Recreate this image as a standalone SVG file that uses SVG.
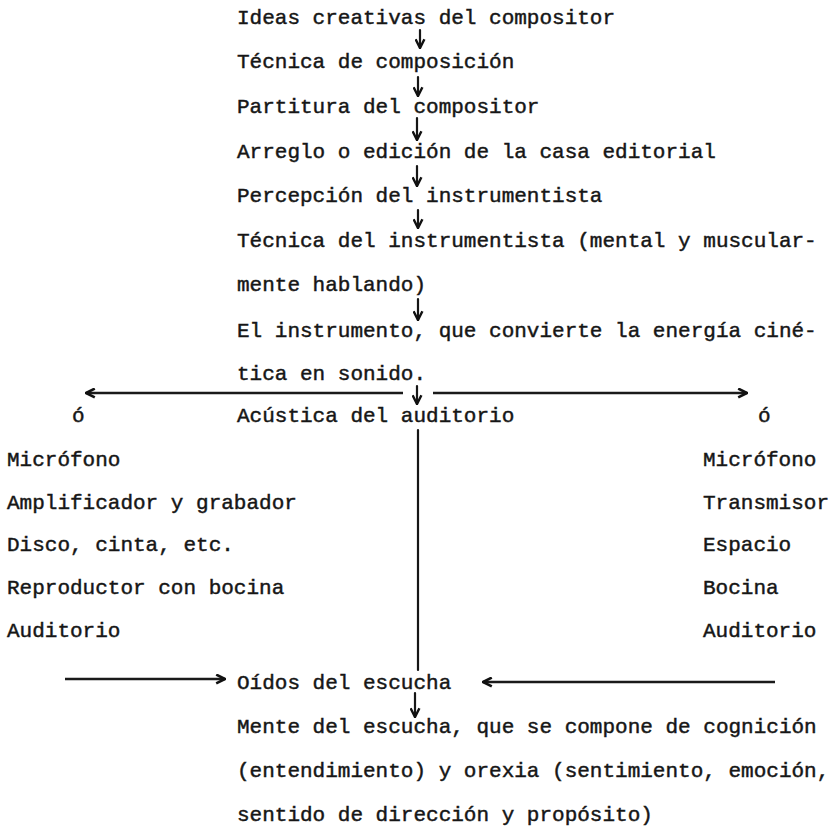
<svg xmlns="http://www.w3.org/2000/svg" width="836" height="830" viewBox="0 0 836 830">
<defs>
<marker id="ah" viewBox="0 0 10 10" refX="9" refY="5" markerWidth="11" markerHeight="11" markerUnits="userSpaceOnUse" orient="auto">
<path d="M1,1 L9,5 L1,9" fill="none" stroke="#111" stroke-width="2.4"/>
</marker>
<marker id="ahs" viewBox="0 0 10 10" refX="9" refY="5" markerWidth="11" markerHeight="11" markerUnits="userSpaceOnUse" orient="auto">
<path d="M1,1 L9,5 L1,9" fill="none" stroke="#111" stroke-width="2.2"/>
</marker>
</defs>
<style>
text{font-family:"Liberation Mono","Courier New",monospace;font-size:21px;fill:#161616;stroke:#161616;stroke-width:0.45}
.c{fill:none;stroke:#161616;stroke-width:2.2;stroke-linecap:round}
.h{fill:none;stroke:#1a1a1a;stroke-width:2.6}
</style>
<rect width="836" height="830" fill="#fff"/>
<g id="n1"><text x="237" y="24">Ideas creativas del compositor</text></g>
<g id="n2"><text x="237" y="68">Técnica de composición</text></g>
<g id="n3"><text x="237" y="113">Partitura del compositor</text></g>
<g id="n4"><text x="237" y="158">Arreglo o edición de la casa editorial</text></g>
<g id="n5"><text x="237" y="202">Percepción del instrumentista</text></g>
<g id="n6"><text x="237" y="247">Técnica del instrumentista (mental y muscular-</text><text x="237" y="291">mente hablando)</text></g>
<g id="n7"><text x="237" y="337">El instrumento, que convierte la energía ciné-</text><text x="237" y="380">tica en sonido.</text></g>
<g id="n8"><text x="237" y="422">Acústica del auditorio</text></g>
<g id="left"><text x="72" y="422">ó</text><text x="7" y="466">Micrófono</text><text x="7" y="509">Amplificador y grabador</text><text x="7" y="551">Disco, cinta, etc.</text><text x="7" y="594">Reproductor con bocina</text><text x="7" y="637">Auditorio</text></g>
<g id="right"><text x="758" y="422">ó</text><text x="703" y="466">Micrófono</text><text x="703" y="509">Transmisor</text><text x="703" y="551">Espacio</text><text x="703" y="594">Bocina</text><text x="703" y="637">Auditorio</text></g>
<g id="n9"><text x="237" y="689">Oídos del escucha</text></g>
<g id="n10"><text x="237" y="733">Mente del escucha, que se compone de cognición</text><text x="237" y="777">(entendimiento) y orexia (sentimiento, emoción,</text><text x="237" y="821">sentido de dirección y propósito)</text></g>
<g id="connectors">
<path class="c" d="M420,30 V48" marker-end="url(#ahs)"/>
<path class="c" d="M418,77 V96" marker-end="url(#ahs)"/>
<path class="c" d="M417,118 V140" marker-end="url(#ahs)"/>
<path class="c" d="M417,166 V186" marker-end="url(#ahs)"/>
<path class="c" d="M418,210 V228" marker-end="url(#ahs)"/>
<path class="c" d="M418,299 V320" marker-end="url(#ahs)"/>
<path class="c" d="M417,386 V404" marker-end="url(#ahs)"/>
<path class="h" d="M403,393 H86" marker-end="url(#ah)"/>
<path class="h" d="M433,393 H747" marker-end="url(#ah)"/>
<path class="c" d="M418,430 V670" stroke-width="2.4"/>
<path class="h" d="M65,679 H225" marker-end="url(#ah)"/>
<path class="h" d="M775,682 H483" marker-end="url(#ah)"/>
<path class="c" d="M415,693 V717" marker-end="url(#ahs)"/>
</g>
</svg>
